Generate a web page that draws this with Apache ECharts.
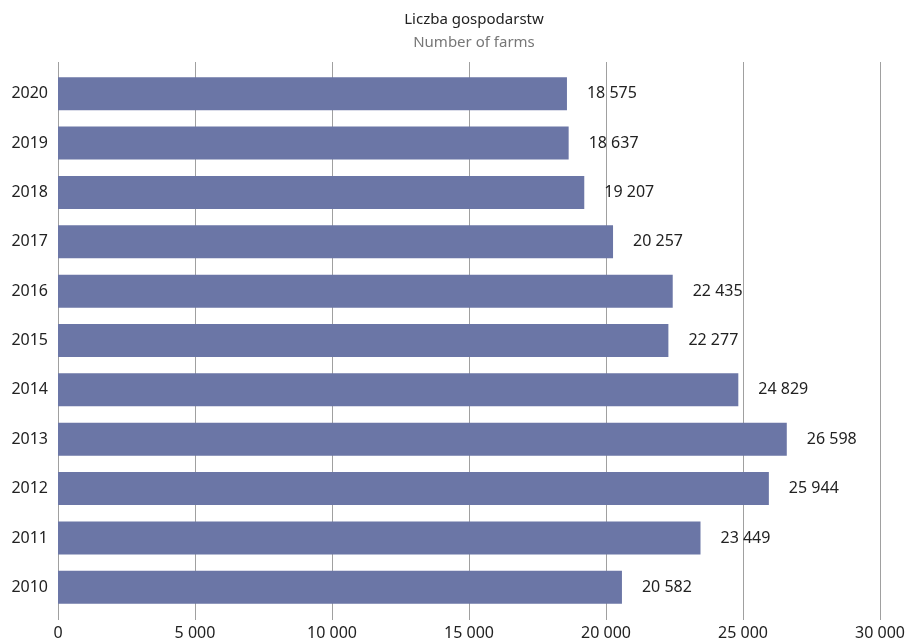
<!DOCTYPE html>
<html>
<head>
<meta charset="utf-8">
<script src="https://cdn.jsdelivr.net/npm/echarts@6/dist/echarts.min.js"></script>
<style>
html,body{margin:0;padding:0;background:#fff;}
#main{width:908px;height:642px;}
</style>
</head>
<body>
<div id="main"></div>
<script>
var years = ['2010','2011','2012','2013','2014','2015','2016','2017','2018','2019','2020'];
var farms = [20582, 23449, 25944, 26598, 24829, 22277, 22435, 20257, 19207, 18637, 18575];
var xTicks = [0, 5000, 10000, 15000, 20000, 25000, 30000];

function fmt(v) {
    return String(v).replace(/\B(?=(\d{3})+(?!\d))/g, ' ');
}

var font = '"Noto Sans", "Open Sans", sans-serif';
var myChart = echarts.init(document.getElementById('main'));
var option = {
    backgroundColor: '#fff',
    animation: false,
    title: {
        text: 'Liczba gospodarstw',
        subtext: 'Number of farms',
        left: 469,
        textAlign: 'center',
        top: 7,
        itemGap: 8,
        textStyle: {fontFamily: font, fontSize: 15, fontWeight: 'normal', color: '#222'},
        subtextStyle: {fontFamily: font, fontSize: 15, color: '#777'}
    },
    grid: [
        {left: 58, right: 28, top: 62, bottom: 22},
        {left: 58, right: 28, top: 69, bottom: 30}
    ],
    xAxis: [
        {
            gridIndex: 0, type: 'value', min: xTicks[0], max: xTicks[xTicks.length - 1], interval: 5000,
            axisLine: {show: false}, axisTick: {show: false},
            splitLine: {show: true, lineStyle: {color: '#a0a0a0', width: 1}},
            axisLabel: {fontFamily: font, fontSize: 16, color: '#222', margin: 5, formatter: fmt}
        },
        {
            gridIndex: 1, type: 'value', min: 0, max: 30000, show: false
        }
    ],
    yAxis: [
        {gridIndex: 0, type: 'category', data: years, show: false},
        {
            gridIndex: 1, type: 'category', data: years,
            axisLine: {show: false}, axisTick: {show: false}, splitLine: {show: false},
            axisLabel: {fontFamily: font, fontSize: 16, color: '#222', margin: 10}
        }
    ],
    series: [{
        type: 'bar',
        xAxisIndex: 1,
        yAxisIndex: 1,
        data: farms,
        barWidth: 33,
        itemStyle: {color: '#6b76a6'},
        label: {
            show: true, position: 'right', distance: 20,
            fontFamily: font, fontSize: 16, color: '#222',
            formatter: function (p) { return fmt(p.value); }
        }
    }]
};
myChart.setOption(option);
</script>
</body>
</html>
